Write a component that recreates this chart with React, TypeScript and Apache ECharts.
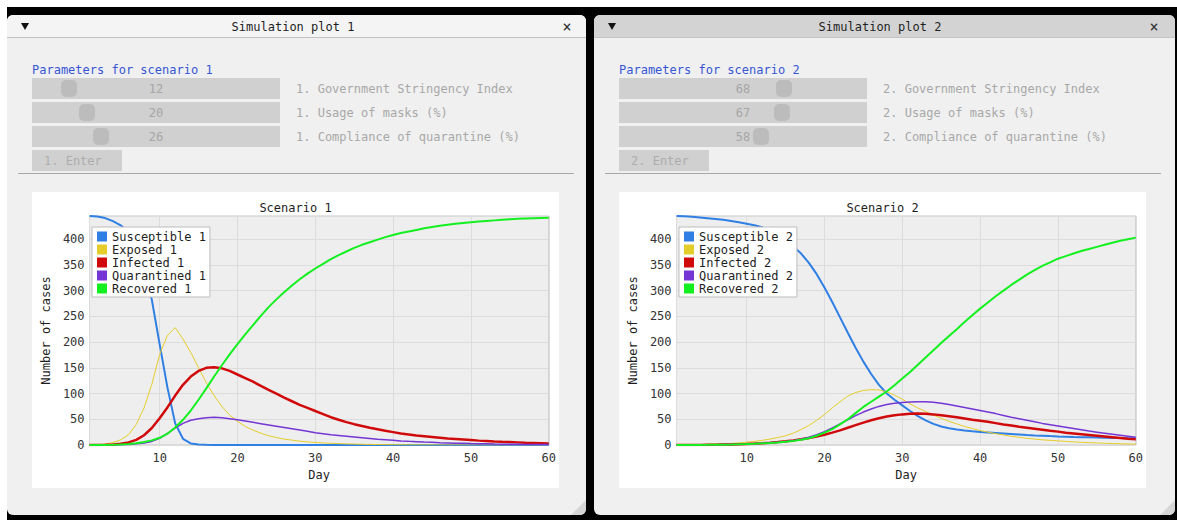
import React, { useEffect, useRef } from "react";
import * as echarts from "echarts";

const MONO = "'DejaVu Sans Mono', 'Liberation Mono', monospace";

// Days of the simulation (x axis)
const DAYS = Array.from({ length: 60 }, (_, i) => i + 1);

const SERIES_NAMES = ["Susceptible", "Exposed", "Infected", "Quarantined", "Recovered"];
const SERIES_COLORS = ["#2f7fe4", "#e4cd2a", "#d00a0a", "#7436d4", "#14f01f"];
const LINE_WIDTHS = [2, 1, 2.5, 1.5, 2];

const PARAM_LABELS = ["Government Stringency Index", "Usage of masks (%)", "Compliance of quarantine (%)"];
const params1 = [12, 20, 26];
const params2 = [68, 67, 58];

// Scenario 1 compartments, one value per day
const susceptible1 = [
  445, 444, 441, 435, 427, 413, 390, 348, 282, 196,
  112, 42, 12, 3, 1, 0.3, 0.1, 0, 0, 0,
  0, 0, 0, 0, 0, 0, 0, 0, 0, 0,
  0, 0, 0, 0, 0, 0, 0, 0, 0, 0,
  0, 0, 0, 0, 0, 0, 0, 0, 0, 0,
  0, 0, 0, 0, 0, 0, 0, 0, 0, 0,
];
const exposed1 = [
  0, 0.5, 1.5, 5, 10, 20, 40, 72, 118, 176,
  213, 228, 206, 180, 150, 121, 96, 75, 58, 46,
  36, 29, 23, 18, 14.5, 11.5, 9.5, 7.5, 6, 5,
  4, 3.3, 2.7, 2.2, 1.8, 1.4, 1.1, 0.9, 0.7, 0.5,
  0.4, 0.3, 0.25, 0.2, 0.15, 0.1, 0.1, 0.1, 0, 0,
  0, 0, 0, 0, 0, 0, 0, 0, 0, 0,
];
const infected1 = [
  0, 0.2, 0.5, 1, 2.5, 5, 10, 19, 33, 52,
  73, 96, 117, 133, 144, 150, 151, 149, 144, 137,
  130, 123, 115, 107, 100, 92, 85, 78, 72, 66,
  60, 54, 49, 44.5, 40.5, 37, 33.5, 30.5, 27.5, 25,
  22.5, 20.5, 18.5, 17, 15.5, 14, 12.5, 11.5, 10.5, 9.5,
  8.5, 7.8, 7, 6.3, 5.7, 5.1, 4.5, 4, 3.5, 3,
];
const quarantined1 = [
  0, 0, 0.1, 0.3, 0.6, 1.2, 2.5, 4, 7, 13,
  22, 33, 42, 48, 51, 53, 54, 53, 51, 49,
  46.5, 44, 41.5, 39, 36.5, 34, 31.5, 29, 26.5, 24,
  22, 20, 18.5, 17, 15.5, 14, 12.5, 11, 10, 9,
  8, 7.2, 6.5, 5.8, 5.2, 4.6, 4.1, 3.6, 3.2, 2.8,
  2.5, 2.2, 1.9, 1.7, 1.5, 1.3, 1.1, 1, 0.9, 0.8,
];
const recovered1 = [
  0, 0, 0.2, 0.5, 1, 2, 3.5, 6, 9, 14,
  22, 34, 49, 67, 88, 110, 133, 155, 176, 196,
  215, 233, 251, 268, 283, 297, 310, 322, 333, 343,
  352, 361, 369, 376, 383, 389, 394, 399, 404, 408,
  412, 415, 418, 421, 423.5, 426, 428, 430, 431.5, 433,
  434.5, 435.5, 436.5, 437.5, 438.5, 439.5, 440, 440.5, 441, 441.5,
];

// Scenario 2 compartments, one value per day
const susceptible2 = [
  445, 444.5, 443.5, 442, 440.5, 439, 437.5, 435.5, 433, 430,
  427, 423, 417, 409, 399, 386, 372, 354, 332, 306,
  278, 248, 218, 189, 162, 138, 117, 100, 88, 77,
  66, 56, 48, 41, 36, 32.5, 30, 28, 26.5, 25.5,
  24.5, 23.5, 22.5, 21.5, 20.5, 19.5, 18.7, 18, 17.3, 16.7,
  16.2, 15.7, 15.3, 14.9, 14.5, 14.1, 13.8, 13.5, 13.2, 13,
];
const exposed2 = [
  0, 0.2, 0.5, 0.8, 1.2, 1.7, 2.3, 3, 4, 5.5,
  7, 9, 11.5, 14.5, 18, 23, 30, 38, 48, 59,
  72, 84, 95, 102, 106, 107.5, 107, 103.5, 97, 89,
  80, 72, 65, 58, 52, 46, 41, 36, 32, 28,
  25, 22, 19.5, 17, 15, 13, 11.5, 10, 9, 8,
  7, 6, 5.2, 4.5, 4, 3.4, 2.9, 2.4, 2, 1.6,
];
const infected2 = [
  0, 0, 0.1, 0.2, 0.4, 0.6, 0.9, 1.2, 1.6, 2.1,
  2.8, 3.6, 4.6, 5.8, 7.2, 9, 11, 13.5, 16.5, 20,
  24, 28.5, 33.5, 38.5, 43.5, 48, 52, 55.5, 58, 59.5,
  60.5, 61, 60.5, 59.5, 58, 56, 54, 51.5, 49, 47,
  45, 42.5, 40, 38, 35.5, 33.5, 31.5, 29.5, 27.5, 26,
  24, 22.5, 21, 19.5, 18, 16.5, 15, 13.5, 12, 11,
];
const quarantined2 = [
  0, 0, 0.1, 0.2, 0.4, 0.6, 0.9, 1.2, 1.6, 2.1,
  2.7, 3.4, 4.3, 5.4, 6.7, 8.5, 11, 15, 20, 26,
  33, 41, 49, 57, 64, 70, 75, 78.5, 81, 82.5,
  83.5, 84, 84, 83, 81, 78.5, 76, 73, 70, 67,
  64, 61, 57.5, 54, 51, 48, 45, 42, 39.5, 37,
  34.5, 32, 29.5, 27, 25, 23, 21, 19, 17, 15,
];
const recovered2 = [
  0, 0, 0.1, 0.2, 0.3, 0.5, 0.7, 1, 1.4, 1.9,
  2.5, 3.2, 4, 5, 6.3, 8, 10, 13, 18, 24,
  31, 40, 50, 62, 74, 84, 94, 104, 116, 129,
  142, 156, 170, 184, 198, 212, 225, 239, 252, 265,
  277, 289, 300, 311, 321, 331, 340, 348, 355, 362,
  367, 372, 377, 381, 385, 389, 393, 397, 400, 403,
];

const scenario1 = [susceptible1, exposed1, infected1, quarantined1, recovered1];
const scenario2 = [susceptible2, exposed2, infected2, quarantined2, recovered2];

const TEXT = "#1e1e1e";

function ScenarioChart({ id, series }: { id: number; series: number[][] }) {
  const ref = useRef<HTMLDivElement>(null);
  useEffect(() => {
    if (!ref.current) return;
    const chart = echarts.init(ref.current, null, { renderer: "svg" });
    const yMax = Math.max(...series.map((s) => Math.max(...s)));
    const names = SERIES_NAMES.map((n) => `${n} ${id}`);
    const axisText = { fontFamily: MONO, fontSize: 12, color: "#333" };
    chart.setOption({
      animation: false,
      title: {
        text: `Scenario ${id}`,
        left: "center",
        top: 5,
        textStyle: { fontFamily: MONO, fontSize: 12, fontWeight: "normal", color: TEXT },
      },
      legend: {
        orient: "vertical",
        left: 60,
        top: 35,
        backgroundColor: "#ffffff",
        borderColor: "#bdbdbd",
        borderWidth: 1,
        padding: [3, 4, 2, 5],
        itemGap: 0,
        itemWidth: 10,
        itemHeight: 10,
        icon: "rect",
        selectedMode: false,
        data: names,
        textStyle: { fontFamily: MONO, fontSize: 12, color: TEXT, lineHeight: 13 },
      },
      grid: {
        left: 52,
        top: 24,
        width: 466,
        height: 229,
        show: true,
        backgroundColor: "#eeeeee",
        borderColor: "#c6c6c6",
        borderWidth: 1,
      },
      xAxis: {
        type: "value",
        min: 1,
        max: 60,
        splitNumber: 6,
        name: "Day",
        nameLocation: "middle",
        nameGap: 22,
        nameTextStyle: { fontFamily: MONO, fontSize: 12, color: TEXT },
        axisLine: { show: false },
        axisTick: { show: false },
        axisLabel: {
          ...axisText,
          margin: 7,
          formatter: (v: number) => (v % 10 === 0 ? String(v) : ""),
        },
        splitLine: { show: true, lineStyle: { color: "#dcdcdc", width: 1 } },
      },
      yAxis: {
        type: "value",
        min: 0,
        max: yMax,
        interval: 50,
        name: "Number of cases",
        nameLocation: "middle",
        nameGap: 26,
        nameRotate: 90,
        nameTextStyle: { fontFamily: MONO, fontSize: 12, color: TEXT },
        axisLine: { show: false },
        axisTick: { show: false },
        axisLabel: {
          ...axisText,
          margin: 5,
          formatter: (v: number) => (v % 50 === 0 ? String(v) : ""),
        },
        splitLine: { show: true, lineStyle: { color: "#dcdcdc", width: 1 } },
      },
      series: series.map((vals, i) => ({
        type: "line",
        name: names[i],
        data: DAYS.map((d, j) => [d, vals[j]]),
        showSymbol: false,
        symbol: "none",
        silent: true,
        color: SERIES_COLORS[i],
        lineStyle: { width: LINE_WIDTHS[i], color: SERIES_COLORS[i] },
        itemStyle: { color: SERIES_COLORS[i] },
      })),
    });
    return () => chart.dispose();
  }, [id, series]);
  return <div ref={ref} style={{ position: "absolute", left: 0, top: 0, width: 527, height: 296 }} />;
}

function Slider({ idx, top, value, label }: { idx: number; top: number; value: number; label: string }) {
  return (
    <>
      <div style={{ position: "absolute", left: 25, top, width: 248, height: 21, background: "#d0d0d0" }}>
        <div
          style={{
            position: "absolute",
            left: 1 + (value / 100) * 230,
            top: 2,
            width: 16,
            height: 17,
            borderRadius: 5,
            background: "#bcbcbc",
          }}
        />
        <div
          style={{
            position: "absolute",
            left: 0,
            top: 0,
            width: 248,
            height: 21,
            lineHeight: "22px",
            textAlign: "center",
            color: "#a6a6a6",
          }}
        >
          {value}
        </div>
      </div>
      <div
        style={{
          position: "absolute",
          left: 289,
          top,
          height: 21,
          lineHeight: "22px",
          color: "#a8a8a8",
          whiteSpace: "pre",
        }}
      >
        {`${idx}. ${label}`}
      </div>
    </>
  );
}

function SimWindow({
  idx,
  left,
  width,
  active,
  params,
  series,
}: {
  idx: number;
  left: number;
  width: number;
  active: boolean;
  params: number[];
  series: number[][];
}) {
  return (
    <div
      style={{
        position: "absolute",
        left,
        top: 15,
        width,
        height: 500,
        background: "#f0f0f0",
        borderRadius: 6,
        overflow: "hidden",
      }}
    >
      {/* title bar */}
      <div
        style={{
          position: "absolute",
          left: 0,
          top: 0,
          width,
          height: 22,
          background: active ? "#d3d3d3" : "#f4f4f4",
          borderBottom: "1px solid #c4c4c4",
        }}
      />
      <div
        style={{
          position: "absolute",
          left: 14,
          top: 8,
          width: 0,
          height: 0,
          borderLeft: "4px solid transparent",
          borderRight: "4px solid transparent",
          borderTop: "7px solid #111",
        }}
      />
      <div
        style={{
          position: "absolute",
          left: 0,
          top: 0,
          width: 572,
          height: 23,
          lineHeight: "25px",
          textAlign: "center",
          color: TEXT,
          whiteSpace: "pre",
        }}
      >
        {`Simulation plot ${idx}`}
      </div>
      <div
        style={{
          position: "absolute",
          left: 553,
          top: 0,
          width: 14,
          height: 23,
          lineHeight: "24px",
          textAlign: "center",
          fontSize: 15,
          color: "#333",
        }}
      >
        ×
      </div>

      {/* parameters */}
      <div
        style={{
          position: "absolute",
          left: 25,
          top: 47,
          height: 16,
          lineHeight: "16px",
          color: "#3656d4",
          whiteSpace: "pre",
        }}
      >
        {`Parameters for scenario ${idx}`}
      </div>
      {params.map((v, i) => (
        <Slider key={i} idx={idx} top={63 + i * 24} value={v} label={PARAM_LABELS[i]} />
      ))}
      <div
        style={{
          position: "absolute",
          left: 25,
          top: 135,
          width: 90,
          height: 21,
          background: "#d0d0d0",
          lineHeight: "22px",
          color: "#adadad",
          whiteSpace: "pre",
          boxSizing: "border-box",
          paddingLeft: 12,
        }}
      >
        {`${idx}. Enter`}
      </div>
      <div style={{ position: "absolute", left: 11, top: 158, width: 556, height: 1, background: "#a8a8a8" }} />

      {/* chart area */}
      <div style={{ position: "absolute", left: 25, top: 177, width: 527, height: 296, background: "#ffffff" }}>
        <ScenarioChart id={idx} series={series} />
      </div>

      {/* resize grip */}
      <div
        style={{
          position: "absolute",
          right: 0,
          bottom: 0,
          width: 15,
          height: 15,
          background: "#d6d6d6",
          clipPath: "polygon(100% 0, 100% 100%, 0 100%)",
        }}
      />
    </div>
  );
}

export default function App() {
  return (
    <div
      style={{
        position: "fixed",
        left: 0,
        top: 0,
        width: 1177,
        height: 520,
        background: "#ffffff",
        overflow: "hidden",
        fontFamily: MONO,
        fontSize: 12,
      }}
    >
      <div style={{ position: "absolute", left: 7, top: 7, right: 0, bottom: 0, background: "#000000" }} />
      <SimWindow idx={1} left={7} width={579} active={false} params={params1} series={scenario1} />
      <SimWindow idx={2} left={594} width={581} active={true} params={params2} series={scenario2} />
    </div>
  );
}
